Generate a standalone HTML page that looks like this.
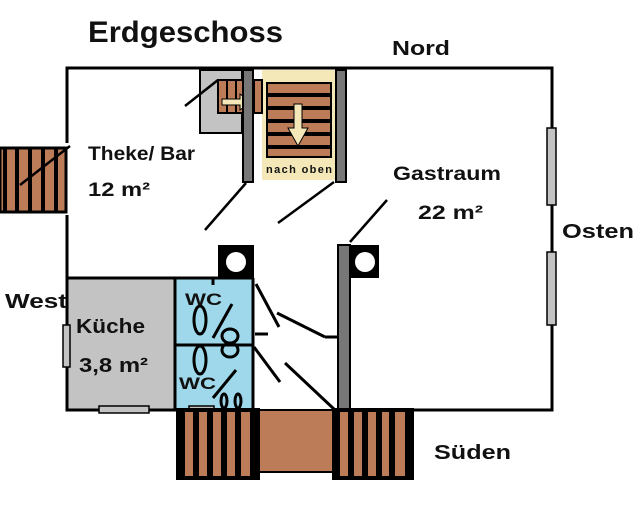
<!DOCTYPE html>
<html><head><meta charset="utf-8"><style>
html,body{margin:0;padding:0;background:#fff;width:640px;height:508px;overflow:hidden}
svg{display:block}
text{font-family:"Liberation Sans",Arial,sans-serif;font-weight:bold;fill:#111}
</style></head><body>
<svg width="640" height="508" viewBox="0 0 640 508" xmlns="http://www.w3.org/2000/svg">
<rect width="640" height="508" fill="#fff"/>
<rect x="67" y="278" width="108" height="132" fill="#c3c3c3"/>
<rect x="175" y="278" width="78" height="132" fill="#9fd8ea"/>
<g stroke="#000" stroke-width="3" fill="none">
<polyline points="67,143 67,68 552,68 552,410 340,410"/>
<polyline points="67,215 67,410 256,410"/>
<line x1="67" y1="278" x2="253" y2="278"/>
<line x1="175" y1="278" x2="175" y2="410"/>
<line x1="253" y1="278" x2="253" y2="410"/>
<line x1="175" y1="345" x2="253" y2="345"/>
</g>
<rect x="547" y="128" width="9" height="77" fill="#c3c3c3" stroke="#000" stroke-width="1.5"/>
<rect x="547" y="252" width="9" height="73" fill="#c3c3c3" stroke="#000" stroke-width="1.5"/>
<rect x="63" y="325" width="7" height="42" fill="#c3c3c3" stroke="#000" stroke-width="1.5"/>
<rect x="99" y="406" width="50" height="7" fill="#c3c3c3" stroke="#000" stroke-width="1.5"/>
<rect x="189" y="406" width="25" height="7" fill="#c3c3c3" stroke="#000" stroke-width="1.5"/>
<rect x="0" y="148" width="66" height="64" fill="#bd7c58" stroke="#000" stroke-width="3"/>
<g fill="#000"><rect x="3" y="148" width="4" height="64"/><rect x="15" y="148" width="4" height="64"/><rect x="28" y="148" width="4" height="64"/><rect x="41" y="148" width="4" height="64"/><rect x="54" y="148" width="4" height="64"/></g>
<line x1="20" y1="185" x2="70" y2="146" stroke="#000" stroke-width="2.5"/>
<rect x="200" y="70" width="42" height="63" fill="#c3c3c3" stroke="#000" stroke-width="2"/>
<rect x="262" y="70" width="74" height="110" fill="#f4e7b8"/>
<rect x="266" y="82" width="66" height="76" fill="#000"/>
<g fill="#bd7c58"><rect x="268" y="84" width="62" height="9"/><rect x="268" y="97" width="62" height="9"/><rect x="268" y="110" width="62" height="9"/><rect x="268" y="123" width="62" height="9"/><rect x="268" y="136" width="62" height="9"/><rect x="268" y="149" width="62" height="7"/></g>
<rect x="218" y="80" width="44" height="33" fill="#bd7c58" stroke="#000" stroke-width="2"/>
<g stroke="#000" stroke-width="2"><line x1="227" y1="80" x2="227" y2="113"/><line x1="236" y1="80" x2="236" y2="113"/><line x1="245" y1="80" x2="245" y2="113"/><line x1="254" y1="80" x2="254" y2="113"/></g>
<polygon points="222,99 240,99 240,94 250,102 240,110 240,105 222,105" fill="#f4e7b8" stroke="#000" stroke-width="1"/>
<polygon points="294,104 302,104 302,128 308,128 298,146 288,128 294,128" fill="#f4e7b8" stroke="#000" stroke-width="1"/>
<rect x="243" y="70" width="10" height="112" fill="#777" stroke="#000" stroke-width="2"/>
<rect x="336" y="70" width="10" height="112" fill="#777" stroke="#000" stroke-width="2"/>
<text x="266" y="173" font-size="11" textLength="66">nach oben</text>
<g stroke="#000" stroke-width="2.5">
<line x1="185" y1="106" x2="218" y2="80"/>
<line x1="205" y1="230" x2="246" y2="183"/>
<line x1="278" y1="223" x2="334" y2="182"/>
<line x1="350" y1="242" x2="387" y2="200"/>
</g>
<rect x="218" y="245" width="36" height="33" fill="#000"/>
<circle cx="236" cy="262" r="10" fill="#fff"/>
<rect x="338" y="245" width="12" height="165" fill="#777" stroke="#000" stroke-width="2"/>
<rect x="349" y="245" width="30" height="33" fill="#000"/>
<circle cx="365" cy="262" r="10" fill="#fff"/>
<g stroke="#000" stroke-width="3" fill="none">
<line x1="256" y1="284" x2="279" y2="327"/>
<line x1="277" y1="313" x2="325" y2="337"/>
<line x1="325" y1="337" x2="338" y2="337"/>
<line x1="255" y1="334" x2="268" y2="334"/>
<line x1="254" y1="347" x2="280" y2="382"/>
<line x1="285" y1="363" x2="335" y2="410"/>
<line x1="213" y1="338" x2="232" y2="304"/>
<line x1="213" y1="398" x2="236" y2="370"/>
<line x1="213" y1="278" x2="213" y2="285"/>
</g>
<g stroke="#000" stroke-width="3" fill="none">
<ellipse cx="200" cy="320" rx="6" ry="14"/><ellipse cx="200" cy="360" rx="6" ry="14"/>
<ellipse cx="230" cy="336" rx="8" ry="7"/><ellipse cx="230" cy="350" rx="8" ry="7"/>
<ellipse cx="224" cy="401" rx="3" ry="7"/><ellipse cx="238" cy="401" rx="3" ry="7"/>
</g>
<rect x="258" y="410" width="76" height="62" fill="#bd7c58" stroke="#000" stroke-width="2"/>
<rect x="178" y="410" width="80" height="68" fill="#bd7c58" stroke="#000" stroke-width="4"/>
<g fill="#000"><rect x="178" y="412" width="7" height="66"/><rect x="193" y="412" width="6" height="66"/><rect x="207" y="412" width="6" height="66"/><rect x="221" y="412" width="6" height="66"/><rect x="235" y="412" width="6" height="66"/><rect x="250" y="412" width="8" height="66"/></g>
<rect x="334" y="410" width="78" height="68" fill="#bd7c58" stroke="#000" stroke-width="4"/>
<g fill="#000"><rect x="332" y="412" width="8" height="66"/><rect x="348" y="412" width="6" height="66"/><rect x="362" y="412" width="6" height="66"/><rect x="376" y="412" width="6" height="66"/><rect x="389" y="412" width="6" height="66"/><rect x="405" y="412" width="7" height="66"/></g>
<text x="88" y="42" font-size="30" textLength="195" lengthAdjust="spacingAndGlyphs">Erdgeschoss</text>
<text x="392" y="55" font-size="20" textLength="58" lengthAdjust="spacingAndGlyphs">Nord</text>
<text x="88" y="160" font-size="19" textLength="107" lengthAdjust="spacingAndGlyphs">Theke/ Bar</text>
<text x="88" y="196" font-size="19" textLength="62" lengthAdjust="spacingAndGlyphs">12 m²</text>
<text x="393" y="180" font-size="19" textLength="108" lengthAdjust="spacingAndGlyphs">Gastraum</text>
<text x="418" y="219" font-size="19" textLength="65" lengthAdjust="spacingAndGlyphs">22 m²</text>
<text x="562" y="238" font-size="20" textLength="72" lengthAdjust="spacingAndGlyphs">Osten</text>
<text x="5" y="308" font-size="20" textLength="62" lengthAdjust="spacingAndGlyphs">West</text>
<text x="76" y="333" font-size="20" textLength="69" lengthAdjust="spacingAndGlyphs">Küche</text>
<text x="79" y="372" font-size="20" textLength="69" lengthAdjust="spacingAndGlyphs">3,8 m²</text>
<text x="185" y="305" font-size="17" textLength="37" lengthAdjust="spacingAndGlyphs">WC</text>
<text x="179" y="389" font-size="17" textLength="37" lengthAdjust="spacingAndGlyphs">WC</text>
<text x="434" y="459" font-size="20" textLength="77" lengthAdjust="spacingAndGlyphs">Süden</text>
</svg>
</body></html>
